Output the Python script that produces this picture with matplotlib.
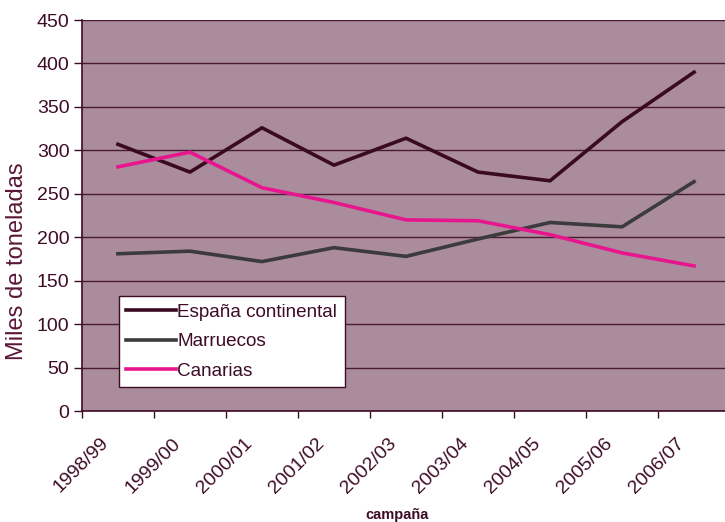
import matplotlib.pyplot as plt
import numpy as np

campanas = ['1998/99', '1999/00', '2000/01', '2001/02', '2002/03',
            '2003/04', '2004/05', '2005/06', '2006/07']
espana = [307, 275, 326, 283, 314, 275, 265, 333, 390]
marruecos = [181, 184, 172, 188, 178, 198, 217, 212, 264]
canarias = [281, 298, 257, 240, 220, 219, 203, 182, 167]

plt.rcParams['font.family'] = ['Liberation Sans', 'DejaVu Sans']

dark = '#3d0c26'
bg = '#aa8c9c'

fig = plt.figure(figsize=(7.25, 5.22), dpi=100)
ax = fig.add_axes([0.113, 0.2126, 0.894, 0.749])
ax.set_facecolor(bg)

x = np.arange(len(campanas))
ax.plot(x, espana, color='#3a0a22', lw=2.6, label='España continental')
ax.plot(x, marruecos, color='#3b3b3d', lw=2.6, label='Marruecos')
ax.plot(x, canarias, color='#e8168e', lw=2.6, label='Canarias')

ax.set_xlim(-0.5, len(campanas) - 0.5)
ax.set_ylim(0, 450)
ax.set_yticks(np.arange(0, 451, 50))
ax.yaxis.grid(True, color='#4a1a32', lw=1)
ax.set_axisbelow(True)

# category boundaries get the tick marks, labels sit a bit left of centre
ax.set_xticks(np.arange(len(campanas)) - 0.5)
ax.set_xticklabels([])
ax.set_xticks(x - 0.25, minor=True)
ax.set_xticklabels(campanas, minor=True, rotation=45, ha='right', va='top',
                   rotation_mode='anchor', fontsize=14, color=dark)
ax.tick_params(axis='x', which='minor', length=0, pad=17)
ax.tick_params(axis='x', which='major', length=5, color=dark, width=1)
ax.tick_params(axis='y', length=6, color=dark, width=1, labelsize=14,
               labelcolor=dark, pad=3)

for s in ['top', 'right']:
    ax.spines[s].set_visible(False)
for s in ['left', 'bottom']:
    ax.spines[s].set_color(dark)
    ax.spines[s].set_linewidth(1.2)

fig.text(17 / 725, 1 - 261 / 522, 'Miles de toneladas', fontsize=17,
         color='#5a1838', rotation=90, ha='center', va='center')
fig.text(397 / 725, 1 - 515 / 522, 'campaña', fontsize=10.5, color=dark,
         ha='center', va='center', fontweight='bold')

leg = ax.legend(loc='lower left', bbox_to_anchor=(0.057, 0.061),
                borderaxespad=0, fontsize=13.6, fancybox=False,
                framealpha=1, edgecolor=dark, handlelength=2.6,
                handletextpad=0.1, labelspacing=0.65, borderpad=0.4)
for t in leg.get_texts():
    t.set_color(dark)

fig.savefig('out.png', dpi=100)
